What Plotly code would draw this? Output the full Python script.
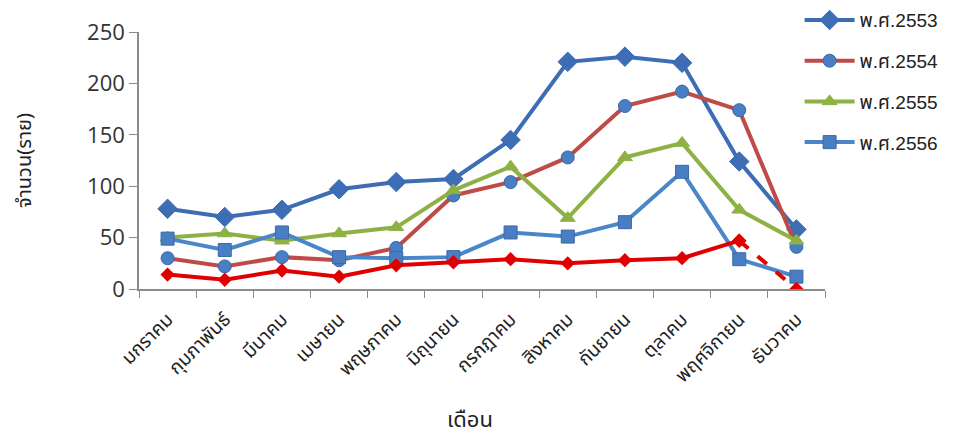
import plotly.graph_objects as go

months = ["มกราคม", "กุมภาพันธ์", "มีนาคม", "เมษายน", "พฤษภาคม", "มิถุนายน",
          "กรกฎาคม", "สิงหาคม", "กันยายน", "ตุลาคม", "พฤศจิกายน", "ธันวาคม"]

y2553 = [78, 70, 77, 97, 104, 107, 145, 221, 226, 220, 124, 58]
y2554 = [30, 22, 31, 28, 40, 91, 104, 128, 178, 192, 174, 41]
y2555 = [50, 54, 47, 54, 60, 96, 119, 69, 128, 142, 77, 47]
y2556 = [49, 38, 55, 31, 30, 31, 55, 51, 65, 114, 29, 12]
y_current = [14, 9, 18, 12, 23, 26, 29, 25, 28, 30, 47, 0]

series = [
    ("พ.ศ.2553", y2553, "#3D6DB4", "diamond", 15, "#3D6DB4"),
    ("พ.ศ.2554", y2554, "#BE4B48", "circle", 13, "#4A7EC2"),
    ("พ.ศ.2555", y2555, "#8DB144", "triangle-up", 13, "#8DB144"),
    ("พ.ศ.2556", y2556, "#4A86C8", "square", 13, "#4A7EC2"),
]

thai_font = "Noto Sans Thai, Tahoma, DejaVu Sans, sans-serif"
legend_font = "Liberation Sans, Noto Sans Thai, sans-serif"

fig = go.Figure()
for i, (name, ys, lc, sym, size, mc) in enumerate(series):
    fig.add_trace(go.Scatter(
        x=months, y=ys, name=name, mode="lines+markers",
        legendgroup=f"g{i}",
        line=dict(color=lc, width=4),
        marker=dict(symbol=sym, size=size, color=mc,
                    line=dict(color="#3A68A8" if sym in ("square", "circle") else mc, width=1)),
    ))

# latest year: solid through November, dashed into December
fig.add_trace(go.Scatter(
    x=months[:11], y=y_current[:11], mode="lines+markers", showlegend=False,
    line=dict(color="#E00000", width=4),
    marker=dict(symbol="diamond", size=11, color="#E00000"),
))
fig.add_trace(go.Scatter(
    x=months[10:], y=y_current[10:], mode="lines+markers", showlegend=False,
    line=dict(color="#E00000", width=4, dash="dash"),
    marker=dict(symbol="diamond", size=11, color="#E00000"),
))

fig.update_layout(
    width=959, height=442,
    margin=dict(l=139, r=134, t=32, b=153, autoexpand=False),
    paper_bgcolor="white", plot_bgcolor="white",
    showlegend=True,
    legend=dict(x=0.963, y=1.12, xanchor="left", yanchor="top",
                font=dict(family=legend_font, size=19, color="#222"),
                traceorder="grouped", tracegroupgap=13, itemwidth=50,
                bgcolor="rgba(0,0,0,0)"),
    xaxis=dict(
        type="category", range=[-0.5, 11.5],
        showline=True, linecolor="#8c8c8c", linewidth=1.5,
        ticks="outside", tickson="boundaries", ticklen=7, tickcolor="#8c8c8c",
        tickangle=-45, showgrid=False, zeroline=False, automargin=False,
        ticklabelstandoff=10,
        tickfont=dict(family=thai_font, size=19, color="#222"),
    ),
    yaxis=dict(
        range=[0, 250], tickvals=[0, 50, 100, 150, 200, 250],
        showline=True, linecolor="#8c8c8c", linewidth=1.5,
        ticks="outside", ticklen=8, tickcolor="#8c8c8c",
        showgrid=False, zeroline=False, automargin=False,
        tickfont=dict(family="Open Sans, sans-serif", size=22, color="#333"),
        title=dict(text="จำนวน(ราย)", font=dict(family=thai_font, size=20, color="#222"),
                   standoff=50),
    ),
    annotations=[dict(
        text="เดือน", xref="paper", yref="paper", x=0.4825, y=-0.51,
        xanchor="center", yanchor="middle", showarrow=False,
        font=dict(family=thai_font, size=22, color="#222"),
    )],
)

fig.write_html("out.html")
